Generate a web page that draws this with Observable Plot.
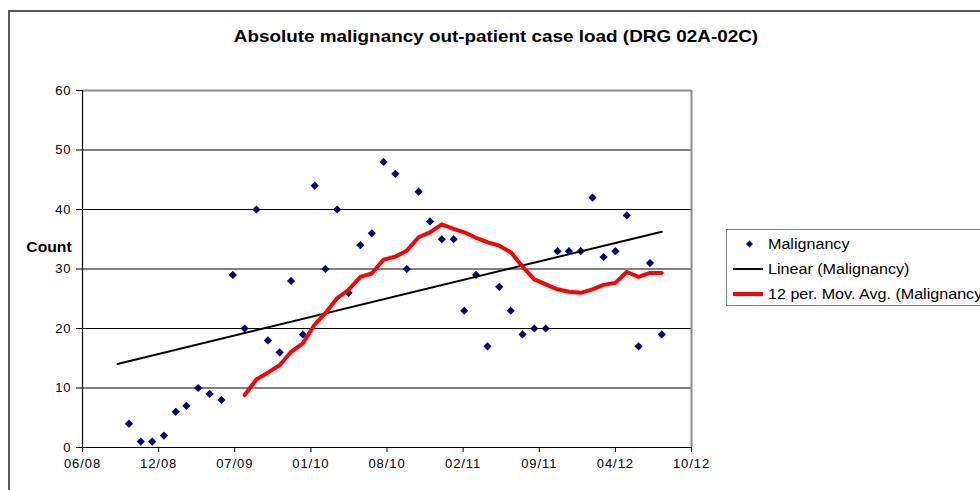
<!DOCTYPE html>
<html>
<head>
<meta charset="utf-8">
<script src="https://cdn.jsdelivr.net/npm/d3@7"></script>
<script src="https://cdn.jsdelivr.net/npm/@observablehq/plot@0.6"></script>
<style>
  html, body { margin: 0; padding: 0; background: #fff; }
  body { width: 980px; height: 490px; overflow: hidden; position: relative; font-family: "Liberation Sans", Arial, sans-serif; }
  #frame { position: absolute; left: 8px; top: 10px; width: 1000px; height: 520px; border-left: 2px solid #595959; border-top: 2px solid #595959; box-sizing: border-box; }
  #chart { position: absolute; left: 0; top: 0; }
  #chart svg text { letter-spacing: 0.9px; font-family: "Liberation Sans", Arial, sans-serif !important; font-size: 13px !important; }
  .title { position: absolute; left: 496px; top: 37px; transform: translate(-50%, -50%) scaleX(1.11); font-weight: bold; font-size: 17px; white-space: nowrap; color: #000; }
  .ylab { position: absolute; left: 49px; top: 247px; transform: translate(-50%, -50%) scaleX(1.12); font-weight: bold; font-size: 14px; color: #000; }
  #legend { position: absolute; left: 726px; top: 229px; width: 300px; height: 77px; border: 1px solid #7f7f7f; box-sizing: border-box; background: #fff; }
  .li { position: absolute; left: 0; height: 20px; width: 300px; }
  .li span { position: absolute; left: 41px; top: 50%; transform: translateY(-50%) scaleX(1.15); transform-origin: left center; font-size: 14px; white-space: nowrap; color: #000; }
  .li svg { position: absolute; left: 0; top: 0; }
</style>
</head>
<body>
<div id="frame"></div>
<div id="chart"></div>
<div class="title">Absolute malignancy out-patient case load (DRG 02A-02C)</div>
<div class="ylab">Count</div>
<div id="legend"></div>
<script>
// Monthly categories (first day of month)
const months = [
  "2008-09","2008-10","2008-11","2008-12",
  "2009-01","2009-02","2009-03","2009-04","2009-05","2009-06","2009-07","2009-08","2009-09","2009-10","2009-11","2009-12",
  "2010-01","2010-02","2010-03","2010-04","2010-05","2010-06","2010-07","2010-08","2010-09","2010-10","2010-11","2010-12",
  "2011-01","2011-02","2011-03","2011-04","2011-05","2011-06","2011-07","2011-08","2011-09","2011-10","2011-11","2011-12",
  "2012-01","2012-02","2012-03","2012-04","2012-05","2012-06","2012-07","2012-08"
];
// Malignancy counts (Sep 2008 has no value)
const malignancy = [
  null,4,1,1,
  2,6,7,10,9,8,29,20,40,18,16,28,
  19,44,30,40,26,34,36,48,46,30,43,38,
  35,35,23,29,17,27,23,19,20,20,33,33,
  33,42,32,33,39,17,31,19
];
// X axis ticks (Excel date axis, major unit 200 days)
const xTickDates = ["2008-06-01","2008-12-18","2009-07-06","2010-01-22","2010-08-10","2011-02-26","2011-09-14","2012-04-01","2012-10-18"];
const xTickLabels = ["06/08","12/08","07/09","01/10","08/10","02/11","09/11","04/12","10/12"];
const yTicks = [0, 10, 20, 30, 40, 50, 60];
const maPeriod = 12;

const parse = d3.utcParse("%Y-%m-%d");
const data = months.map((m, i) => ({date: parse(m + "-01"), value: malignancy[i]}));
const points = data.filter(d => d.value != null);

// 12-period moving average (non-blank values in each window)
const ma = [];
for (let i = maPeriod - 1; i < data.length; i++) {
  const w = data.slice(i - maPeriod + 1, i + 1).filter(d => d.value != null);
  ma.push({date: data[i].date, value: d3.mean(w, d => d.value)});
}

// Linear least-squares trend over the data, across the full x range
const xs = points.map(d => +d.date), ys = points.map(d => d.value);
const mx = d3.mean(xs), my = d3.mean(ys);
const slope = d3.sum(xs, (x, i) => (x - mx) * (ys[i] - my)) / d3.sum(xs, x => (x - mx) ** 2);
const trend = [data[0].date, data[data.length - 1].date].map(d => ({date: d, value: my + slope * (+d - mx)}));

const tickDates = xTickDates.map(parse);
const labelOf = new Map(tickDates.map((d, i) => [+d, xTickLabels[i]]));
const xDomain = [tickDates[0], tickDates[tickDates.length - 1]];

const chart = Plot.plot({
  width: 980,
  height: 490,
  marginLeft: 82,
  marginRight: 289,
  marginTop: 90,
  marginBottom: 43,
  style: {fontFamily: "'Liberation Sans', Arial, sans-serif", fontSize: "13px", background: "transparent", color: "#000"},
  x: {type: "utc", domain: xDomain},
  y: {domain: [0, 60]},
  marks: [
    Plot.ruleY(yTicks.filter(t => t > 0 && t < 60), {x1: xDomain[0], x2: xDomain[1], stroke: "#000", strokeWidth: 1}),
    Plot.ruleY([60], {x1: xDomain[0], x2: xDomain[1], stroke: "#8c8c8c", strokeWidth: 2}),
    Plot.ruleX([xDomain[1]], {y1: 0, y2: 60, stroke: "#8c8c8c", strokeWidth: 2}),
    Plot.axisX({ticks: tickDates, tickFormat: d => labelOf.get(+d), tickSize: 5, tickPadding: 6, label: null, stroke: "#000", fontSize: 13}),
    Plot.axisY({ticks: yTicks, tickSize: 6, tickPadding: 5, label: null, stroke: "#000", fontSize: 13}),
    Plot.ruleX([xDomain[0]], {y1: 0, y2: 60, stroke: "#000", strokeWidth: 1.2}),
    Plot.ruleY([0], {x1: xDomain[0], x2: xDomain[1], stroke: "#000", strokeWidth: 1.2}),
    Plot.dot(points, {x: "date", y: "value", symbol: "diamond2", r: 3.7, fill: "#000080", stroke: "none"}),
    Plot.line(trend, {x: "date", y: "value", stroke: "#000", strokeWidth: 2}),
    Plot.line(ma, {x: "date", y: "value", stroke: "#ff0000", strokeWidth: 4, strokeLinejoin: "round"})
  ]
});
document.getElementById("chart").appendChild(chart);

// Legend
const legendItems = [
  {label: "Malignancy", kind: "dot", y: 14},
  {label: "Linear (Malignancy)", kind: "line", color: "#000", w: 2, y: 39},
  {label: "12 per. Mov. Avg. (Malignancy)", kind: "line", color: "#ff0000", w: 4, y: 64}
];
const legend = document.getElementById("legend");
for (const it of legendItems) {
  const div = document.createElement("div");
  div.className = "li";
  div.style.top = (it.y - 10) + "px";
  let svg;
  if (it.kind === "dot") {
    svg = `<svg width="40" height="20"><path d="M22.5,6.5L26,10L22.5,13.5L19,10Z" fill="#000080"/></svg>`;
  } else {
    svg = `<svg width="40" height="20"><line x1="6" x2="36" y1="10" y2="10" stroke="${it.color}" stroke-width="${it.w}"/></svg>`;
  }
  div.innerHTML = svg + `<span>${it.label}</span>`;
  legend.appendChild(div);
}
</script>
</body>
</html>
